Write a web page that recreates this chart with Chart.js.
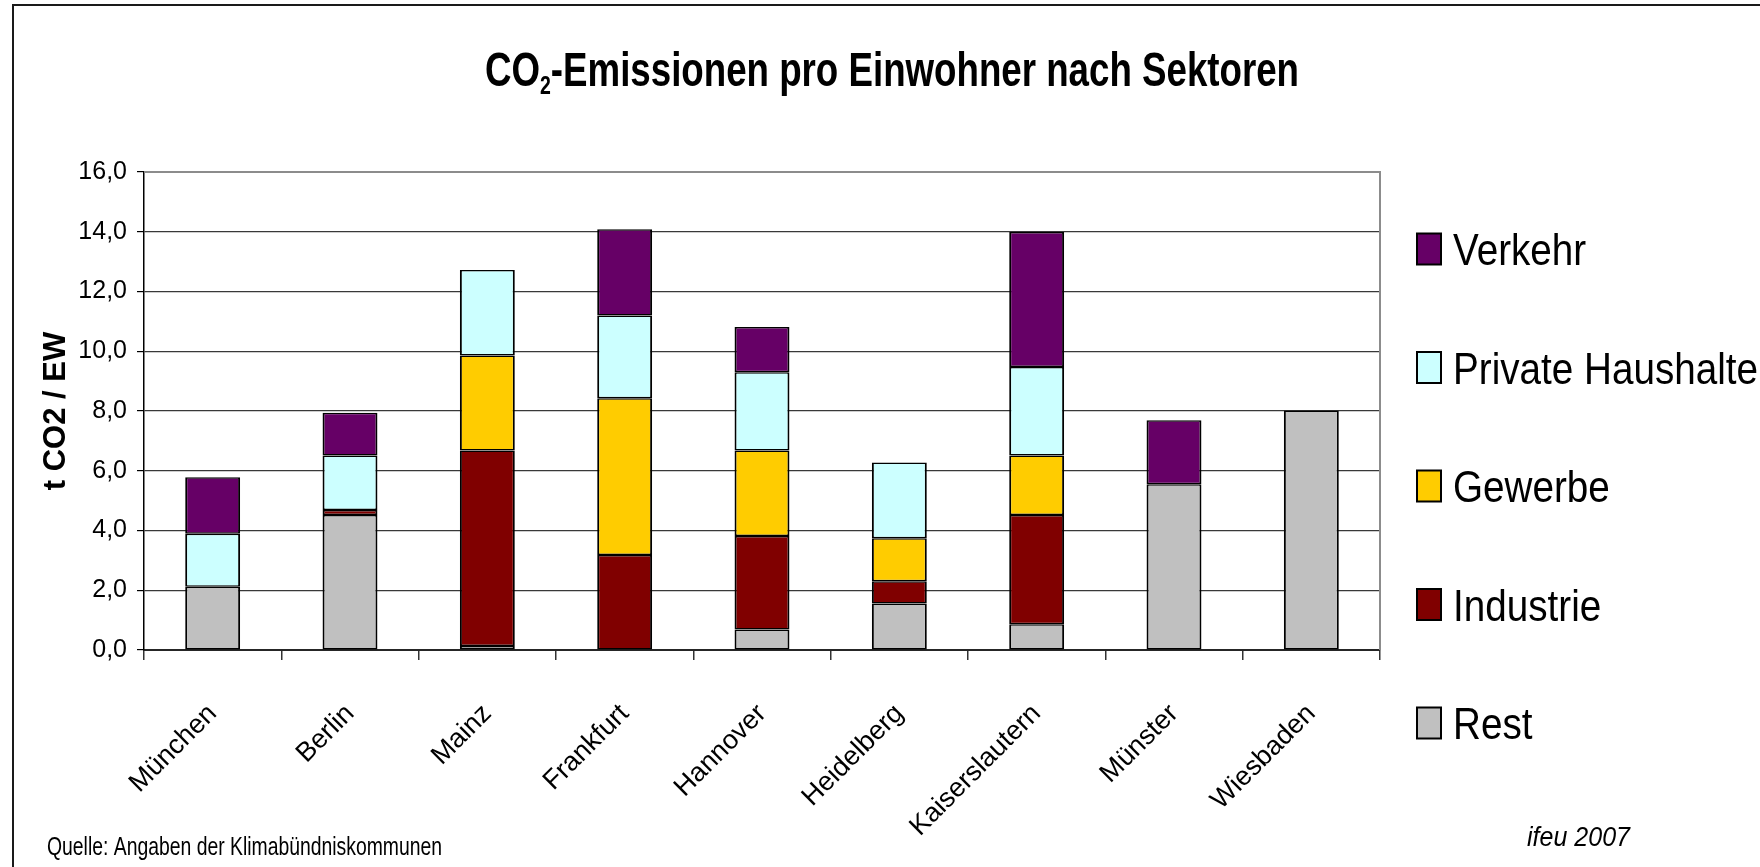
<!DOCTYPE html>
<html>
<head>
<meta charset="utf-8">
<script src="https://cdn.jsdelivr.net/npm/chart.js@4.4.1/dist/chart.umd.min.js"></script>
<style>
  html, body { margin: 0; padding: 0; background: #fff; }
</style>
</head>
<body>
<canvas id="co2_chart" width="1760" height="867"></canvas>
<script>
const cities = ['München', 'Berlin', 'Mainz', 'Frankfurt', 'Hannover', 'Heidelberg', 'Kaiserslautern', 'Münster', 'Wiesbaden']

// t CO2 per inhabitant, bottom to top of each stack
const rest      = [2.12, 4.52, 0.13, null, 0.69, 1.56, 0.86, 5.55, 8.02]
const industrie = [null, 0.17, 6.55, 3.18, 3.13, 0.74, 3.66, null, null]
const gewerbe   = [null, null, 3.18, 5.25, 2.86, 1.44, 1.99, null, null]
const haushalte = [1.77, 1.82, 2.86, 2.77, 2.62, 2.54, 2.96, null, null]
const verkehr   = [1.89, 1.43, null, 2.88, 1.51, null, 4.52, 2.14, null]

const yMax = 16
const yStep = 2

const FONT = '"Liberation Sans", Arial, sans-serif'

// draw text squeezed horizontally so it fills a given width (the original is condensed)
function fittedText(ctx, text, x, y, font, width) {
  ctx.font = font
  const w = ctx.measureText(text).width
  ctx.save()
  ctx.translate(x, y)
  ctx.scale(width / w, 1)
  ctx.fillText(text, 0, 0)
  ctx.restore()
}

const decor = {
  id: 'decor',
  afterDraw(chart) {
    const ctx = chart.ctx
    const a = chart.chartArea
    ctx.save()

    // outer frame
    ctx.strokeStyle = '#1a1a1a'
    ctx.lineWidth = 2
    ctx.beginPath()
    ctx.moveTo(13, 870)
    ctx.lineTo(13, 5)
    ctx.lineTo(1762, 5)
    ctx.stroke()

    // plot area border (top/right)
    ctx.strokeStyle = '#8c8c8c'
    ctx.lineWidth = 2
    ctx.beginPath()
    ctx.moveTo(a.left, a.top)
    ctx.lineTo(a.right, a.top)
    ctx.lineTo(a.right, a.bottom)
    ctx.stroke()

    ctx.fillStyle = '#000'
    ctx.textAlign = 'left'
    ctx.textBaseline = 'alphabetic'

    // title with subscript 2
    const big = 'bold 49px ' + FONT
    const small = 'bold 26px ' + FONT
    const rest_t = '-Emissionen pro Einwohner nach Sektoren'
    ctx.font = big
    const w1 = ctx.measureText('CO').width
    const w3 = ctx.measureText(rest_t).width
    ctx.font = small
    const w2 = ctx.measureText('2').width
    const sx = 814 / (w1 + w2 + w3)
    ctx.save()
    ctx.translate(485, 86)
    ctx.scale(sx, 1)
    ctx.font = big
    ctx.fillText('CO', 0, 0)
    ctx.font = small
    ctx.fillText('2', w1, 8)
    ctx.font = big
    ctx.fillText(rest_t, w1 + w2, 0)
    ctx.restore()

    // legend, Verkehr on top
    const legFont = '44px ' + FONT
    ctx.font = legFont
    const lsx = 305 / ctx.measureText('Private Haushalte').width
    const sets = chart.data.datasets.slice().reverse()
    sets.forEach((ds, i) => {
      const cy = 249 + i * 118.5
      ctx.fillStyle = ds.backgroundColor
      ctx.fillRect(1417, cy - 15.5, 24, 31)
      ctx.strokeStyle = '#000'
      ctx.lineWidth = 2
      ctx.strokeRect(1417, cy - 15.5, 24, 31)
      ctx.fillStyle = '#000'
      ctx.save()
      ctx.translate(1453, cy + 16)
      ctx.scale(lsx, 1)
      ctx.font = legFont
      ctx.fillText(ds.label, 0, 0)
      ctx.restore()
    })

    // footnotes
    fittedText(ctx, 'Quelle: Angaben der Klimabündniskommunen', 47, 855, '25.6px ' + FONT, 395)
    fittedText(ctx, 'ifeu 2007', 1527, 846, 'italic 28px ' + FONT, 103)

    ctx.restore()
  }
}

const barBorder = { top: 1.5, bottom: 1.5, left: 2, right: 2 }

function sector(label, data, color) {
  return {
    label: label,
    data: data,
    backgroundColor: color,
    borderColor: '#000',
    borderWidth: barBorder,
    borderSkipped: false,
    barPercentage: 0.4,
    categoryPercentage: 1.0
  }
}

new Chart(document.getElementById('co2_chart'), {
  type: 'bar',
  data: {
    labels: cities,
    datasets: [
      sector('Rest', rest, '#C0C0C0'),
      sector('Industrie', industrie, '#800000'),
      sector('Gewerbe', gewerbe, '#FFCC00'),
      sector('Private Haushalte', haushalte, '#CCFFFF'),
      sector('Verkehr', verkehr, '#660066')
    ]
  },
  options: {
    responsive: false,
    devicePixelRatio: 1,
    animation: false,
    layout: { padding: { left: 20, top: 172, right: 380, bottom: 0 } },
    plugins: {
      legend: { display: false },
      title: { display: false },
      tooltip: { enabled: false }
    },
    scales: {
      x: {
        stacked: true,
        offset: true,
        grid: { display: true, drawOnChartArea: false, offset: true, tickLength: 10, color: '#333', lineWidth: 1.5 },
        border: { color: '#262626', width: 2 },
        ticks: {
          color: '#000',
          font: { family: FONT, size: 27 },
          minRotation: 45,
          maxRotation: 45,
          autoSkip: false,
          padding: 38
        },
        afterFit(scale) { scale.height = 217 }
      },
      y: {
        stacked: true,
        min: 0,
        max: yMax,
        ticks: {
          stepSize: yStep,
          color: '#000',
          font: { family: FONT, size: 25 },
          padding: 10,
          callback: (v) => v.toFixed(1).replace('.', ',')
        },
        grid: {
          color: (c) => (c.tick && c.tick.value === yMax) ? '#8c8c8c' : '#383838',
          lineWidth: 1.2,
          tickLength: 7,
          tickColor: '#000'
        },
        border: { color: '#000', width: 1.5 },
        title: {
          display: true,
          text: 't CO2 / EW',
          color: '#000',
          font: { family: FONT, size: 31, weight: 'bold' },
          padding: { top: 18, bottom: 0 }
        },
        afterFit(scale) { scale.width = 124 }
      }
    }
  },
  plugins: [decor]
})
</script>
</body>
</html>
